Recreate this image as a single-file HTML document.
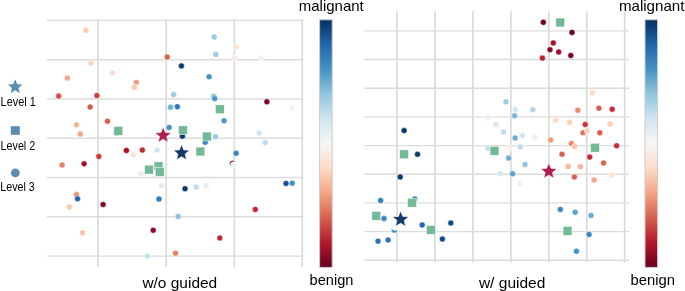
<!DOCTYPE html>
<html><head><meta charset="utf-8"><style>
html,body{margin:0;padding:0;background:#fff;width:685px;height:291px;overflow:hidden;}
svg{display:block;will-change:transform;}
text{font-family:"Liberation Sans",sans-serif;}
</style></head><body>
<svg width="685" height="291" viewBox="0 0 685 291"><defs><linearGradient id="rdbu" x1="0" y1="0" x2="0" y2="1"><stop offset="0.00" stop-color="#053061"/><stop offset="0.10" stop-color="#2166ac"/><stop offset="0.20" stop-color="#4393c3"/><stop offset="0.30" stop-color="#92c5de"/><stop offset="0.40" stop-color="#d1e5f0"/><stop offset="0.50" stop-color="#f7f7f7"/><stop offset="0.60" stop-color="#fddbc7"/><stop offset="0.70" stop-color="#f4a582"/><stop offset="0.80" stop-color="#d6604d"/><stop offset="0.90" stop-color="#b2182b"/><stop offset="1.00" stop-color="#67001f"/></linearGradient></defs>
<line x1="47" y1="20.40" x2="303.5" y2="20.40" stroke="#dcdcdc" stroke-width="1.4"/>
<line x1="47" y1="59.68" x2="303.5" y2="59.68" stroke="#dcdcdc" stroke-width="1.4"/>
<line x1="47" y1="98.96" x2="303.5" y2="98.96" stroke="#dcdcdc" stroke-width="1.4"/>
<line x1="47" y1="138.24" x2="303.5" y2="138.24" stroke="#dcdcdc" stroke-width="1.4"/>
<line x1="47" y1="177.52" x2="303.5" y2="177.52" stroke="#dcdcdc" stroke-width="1.4"/>
<line x1="47" y1="216.80" x2="303.5" y2="216.80" stroke="#dcdcdc" stroke-width="1.4"/>
<line x1="47" y1="256.08" x2="303.5" y2="256.08" stroke="#dcdcdc" stroke-width="1.4"/>
<line x1="98.10" y1="19.2" x2="98.10" y2="267.3" stroke="#dcdcdc" stroke-width="1.8"/>
<line x1="166.20" y1="19.2" x2="166.20" y2="267.3" stroke="#dcdcdc" stroke-width="1.8"/>
<line x1="234.30" y1="19.2" x2="234.30" y2="267.3" stroke="#dcdcdc" stroke-width="1.8"/>
<line x1="302.20" y1="19.2" x2="302.20" y2="267.3" stroke="#dcdcdc" stroke-width="1.8"/>
<line x1="364.4" y1="30.90" x2="628.8" y2="30.90" stroke="#dcdcdc" stroke-width="1.4"/>
<line x1="364.4" y1="59.57" x2="628.8" y2="59.57" stroke="#dcdcdc" stroke-width="1.4"/>
<line x1="364.4" y1="88.24" x2="628.8" y2="88.24" stroke="#dcdcdc" stroke-width="1.4"/>
<line x1="364.4" y1="116.91" x2="628.8" y2="116.91" stroke="#dcdcdc" stroke-width="1.4"/>
<line x1="364.4" y1="145.58" x2="628.8" y2="145.58" stroke="#dcdcdc" stroke-width="1.4"/>
<line x1="364.4" y1="174.25" x2="628.8" y2="174.25" stroke="#dcdcdc" stroke-width="1.4"/>
<line x1="364.4" y1="202.92" x2="628.8" y2="202.92" stroke="#dcdcdc" stroke-width="1.4"/>
<line x1="364.4" y1="231.59" x2="628.8" y2="231.59" stroke="#dcdcdc" stroke-width="1.4"/>
<line x1="364.4" y1="260.26" x2="628.8" y2="260.26" stroke="#dcdcdc" stroke-width="1.4"/>
<line x1="397.00" y1="11.3" x2="397.00" y2="262.6" stroke="#dcdcdc" stroke-width="1.8"/>
<line x1="434.95" y1="11.3" x2="434.95" y2="262.6" stroke="#dcdcdc" stroke-width="1.8"/>
<line x1="472.90" y1="11.3" x2="472.90" y2="262.6" stroke="#dcdcdc" stroke-width="1.8"/>
<line x1="510.85" y1="11.3" x2="510.85" y2="262.6" stroke="#dcdcdc" stroke-width="1.8"/>
<line x1="548.80" y1="11.3" x2="548.80" y2="262.6" stroke="#dcdcdc" stroke-width="1.8"/>
<line x1="586.75" y1="11.3" x2="586.75" y2="262.6" stroke="#dcdcdc" stroke-width="1.8"/>
<line x1="624.70" y1="11.3" x2="624.70" y2="262.6" stroke="#dcdcdc" stroke-width="1.8"/>
<circle cx="85.8" cy="30.3" r="3.0" fill="#fbcbb2" stroke="#fff" stroke-width="0.5"/>
<circle cx="214.2" cy="37.1" r="3.0" fill="#9ecae1" stroke="#fff" stroke-width="0.5"/>
<circle cx="236.3" cy="47.0" r="3.0" fill="#fbe3d6" stroke="#fff" stroke-width="0.5"/>
<circle cx="215.9" cy="54.6" r="3.0" fill="#9ecae1" stroke="#fff" stroke-width="0.5"/>
<circle cx="167.2" cy="57.0" r="3.0" fill="#d6604d" stroke="#fff" stroke-width="0.5"/>
<circle cx="234.4" cy="57.9" r="3.0" fill="#f9ece4" stroke="#fff" stroke-width="0.5"/>
<circle cx="260.9" cy="58.0" r="3.0" fill="#f7efea" stroke="#fff" stroke-width="0.5"/>
<circle cx="90.9" cy="63.1" r="3.0" fill="#fbd3bd" stroke="#fff" stroke-width="0.5"/>
<circle cx="112.4" cy="73.0" r="3.0" fill="#fbdcca" stroke="#fff" stroke-width="0.5"/>
<circle cx="67.4" cy="78.1" r="3.0" fill="#f4a582" stroke="#fff" stroke-width="0.5"/>
<circle cx="58.6" cy="96.1" r="3.0" fill="#d0504a" stroke="#fff" stroke-width="0.5"/>
<circle cx="96.9" cy="95.5" r="3.0" fill="#cc3d3f" stroke="#fff" stroke-width="0.5"/>
<circle cx="90.1" cy="107.0" r="3.0" fill="#d35a4a" stroke="#fff" stroke-width="0.5"/>
<circle cx="107.5" cy="121.2" r="3.0" fill="#d6604d" stroke="#fff" stroke-width="0.5"/>
<circle cx="181.4" cy="65.9" r="3.0" fill="#0b3a6e" stroke="#fff" stroke-width="0.5"/>
<circle cx="209.1" cy="76.8" r="3.0" fill="#4393c3" stroke="#fff" stroke-width="0.5"/>
<circle cx="136.3" cy="82.4" r="3.0" fill="#f09c7b" stroke="#fff" stroke-width="0.5"/>
<circle cx="134.4" cy="87.3" r="3.0" fill="#fbc6ab" stroke="#fff" stroke-width="0.5"/>
<circle cx="173.6" cy="94.5" r="3.0" fill="#9ecae1" stroke="#fff" stroke-width="0.5"/>
<circle cx="213.7" cy="96.2" r="3.0" fill="#8cc0dd" stroke="#fff" stroke-width="0.5"/>
<circle cx="214.7" cy="98.6" r="3.0" fill="#4393c3" stroke="#fff" stroke-width="0.5"/>
<circle cx="170.5" cy="107.3" r="3.0" fill="#6aaed6" stroke="#fff" stroke-width="0.5"/>
<circle cx="177.3" cy="106.7" r="3.0" fill="#2f78b8" stroke="#fff" stroke-width="0.5"/>
<circle cx="266.9" cy="101.8" r="3.0" fill="#7a0822" stroke="#fff" stroke-width="0.5"/>
<circle cx="291.8" cy="108.1" r="3.0" fill="#f3f3f3" stroke="#fff" stroke-width="0.5"/>
<circle cx="76.5" cy="124.8" r="3.0" fill="#f7b495" stroke="#fff" stroke-width="0.5"/>
<circle cx="80.2" cy="134.1" r="3.0" fill="#f4a582" stroke="#fff" stroke-width="0.5"/>
<circle cx="98.8" cy="156.4" r="3.0" fill="#cc3a3d" stroke="#fff" stroke-width="0.5"/>
<circle cx="84.1" cy="163.8" r="3.0" fill="#a50f2b" stroke="#fff" stroke-width="0.5"/>
<circle cx="62.1" cy="165.0" r="3.0" fill="#e48065" stroke="#fff" stroke-width="0.5"/>
<circle cx="116.3" cy="133.1" r="3.0" fill="#3a80c0" stroke="#fff" stroke-width="0.5"/>
<circle cx="169.1" cy="127.4" r="3.0" fill="#4393c3" stroke="#fff" stroke-width="0.5"/>
<circle cx="182.4" cy="136.2" r="3.0" fill="#0d3a70" stroke="#fff" stroke-width="0.5"/>
<circle cx="215.5" cy="136.7" r="3.0" fill="#9ecae1" stroke="#fff" stroke-width="0.5"/>
<circle cx="205.2" cy="142.3" r="3.0" fill="#3a85c0" stroke="#fff" stroke-width="0.5"/>
<circle cx="126.4" cy="150.5" r="3.0" fill="#a50f26" stroke="#fff" stroke-width="0.5"/>
<circle cx="142.3" cy="150.1" r="3.0" fill="#c0263a" stroke="#fff" stroke-width="0.5"/>
<circle cx="133.4" cy="154.8" r="3.0" fill="#fbe3d6" stroke="#fff" stroke-width="0.5"/>
<circle cx="157.1" cy="150.1" r="3.0" fill="#d1e5f0" stroke="#fff" stroke-width="0.5"/>
<circle cx="224.1" cy="120.8" r="3.0" fill="#4a98c9" stroke="#fff" stroke-width="0.5"/>
<circle cx="259.2" cy="133.0" r="3.0" fill="#d1e5f0" stroke="#fff" stroke-width="0.5"/>
<circle cx="265.2" cy="142.5" r="3.0" fill="#c0dcec" stroke="#fff" stroke-width="0.5"/>
<circle cx="236.1" cy="153.3" r="3.0" fill="#3a87c0" stroke="#fff" stroke-width="0.5"/>
<circle cx="76.5" cy="194.6" r="3.0" fill="#ee9273" stroke="#fff" stroke-width="0.5"/>
<circle cx="77.5" cy="198.8" r="3.0" fill="#2166ac" stroke="#fff" stroke-width="0.5"/>
<circle cx="69.3" cy="207.0" r="3.0" fill="#fbc9ae" stroke="#fff" stroke-width="0.5"/>
<circle cx="103.1" cy="204.5" r="3.0" fill="#8a0b25" stroke="#fff" stroke-width="0.5"/>
<circle cx="140.8" cy="173.7" r="3.0" fill="#e4eef5" stroke="#fff" stroke-width="0.5"/>
<circle cx="161.4" cy="185.7" r="3.0" fill="#e0ecf4" stroke="#fff" stroke-width="0.5"/>
<circle cx="159.0" cy="199.1" r="3.0" fill="#2f7bbd" stroke="#fff" stroke-width="0.5"/>
<circle cx="185.0" cy="188.8" r="3.0" fill="#0b3a6e" stroke="#fff" stroke-width="0.5"/>
<circle cx="196.3" cy="187.1" r="3.0" fill="#c4ddee" stroke="#fff" stroke-width="0.5"/>
<circle cx="206.0" cy="185.5" r="3.0" fill="#e6eef3" stroke="#fff" stroke-width="0.5"/>
<circle cx="232.6" cy="163.4" r="3.0" fill="#7a0822" stroke="#fff" stroke-width="0.5"/>
<circle cx="233.6" cy="164.8" r="3.0" fill="#e3edf4" stroke="#fff" stroke-width="0.5"/>
<circle cx="286.0" cy="183.4" r="3.0" fill="#1d4f8c" stroke="#fff" stroke-width="0.5"/>
<circle cx="292.2" cy="183.2" r="3.0" fill="#4393c3" stroke="#fff" stroke-width="0.5"/>
<circle cx="255.3" cy="209.4" r="3.0" fill="#c0283a" stroke="#fff" stroke-width="0.5"/>
<circle cx="82.5" cy="232.8" r="3.0" fill="#fbc4a8" stroke="#fff" stroke-width="0.5"/>
<circle cx="178.1" cy="216.5" r="3.0" fill="#8cc2e0" stroke="#fff" stroke-width="0.5"/>
<circle cx="153.2" cy="230.3" r="3.0" fill="#8a0b25" stroke="#fff" stroke-width="0.5"/>
<circle cx="219.8" cy="238.0" r="3.0" fill="#c0263a" stroke="#fff" stroke-width="0.5"/>
<circle cx="147.2" cy="256.1" r="3.0" fill="#c6e0ef" stroke="#fff" stroke-width="0.5"/>
<circle cx="175.5" cy="253.2" r="3.0" fill="#e58368" stroke="#fff" stroke-width="0.5"/>
<rect x="113.90" y="126.35" width="8.9" height="8.9" fill="#74b995" stroke="#fff" stroke-width="0.5"/>
<rect x="178.55" y="125.85" width="8.9" height="8.9" fill="#74b995" stroke="#fff" stroke-width="0.5"/>
<rect x="202.35" y="132.05" width="8.9" height="8.9" fill="#74b995" stroke="#fff" stroke-width="0.5"/>
<rect x="195.95" y="147.05" width="8.9" height="8.9" fill="#74b995" stroke="#fff" stroke-width="0.5"/>
<rect x="215.35" y="104.85" width="8.9" height="8.9" fill="#74b995" stroke="#fff" stroke-width="0.5"/>
<rect x="144.55" y="165.15" width="8.9" height="8.9" fill="#74b995" stroke="#fff" stroke-width="0.5"/>
<rect x="154.05" y="161.85" width="8.9" height="8.9" fill="#74b995" stroke="#fff" stroke-width="0.5"/>
<rect x="155.25" y="167.25" width="8.9" height="8.9" fill="#74b995" stroke="#fff" stroke-width="0.5"/>
<path d="M163.15,126.95 L165.35,132.43 L171.25,132.83 L166.71,136.62 L168.16,142.35 L163.15,139.21 L158.14,142.35 L159.59,136.62 L155.05,132.83 L160.95,132.43 Z" fill="#b11d4c" stroke="#fff" stroke-width="0.6"/>
<path d="M181.55,144.40 L183.75,149.88 L189.65,150.28 L185.11,154.07 L186.56,159.80 L181.55,156.66 L176.54,159.80 L177.99,154.07 L173.45,150.28 L179.35,149.88 Z" fill="#12386a" stroke="#fff" stroke-width="0.6"/>
<circle cx="543.3" cy="22.3" r="3.0" fill="#67001f" stroke="#fff" stroke-width="0.5"/>
<circle cx="572.0" cy="32.4" r="3.0" fill="#6b0120" stroke="#fff" stroke-width="0.5"/>
<circle cx="553.3" cy="42.9" r="3.0" fill="#a8102a" stroke="#fff" stroke-width="0.5"/>
<circle cx="550.0" cy="49.7" r="3.0" fill="#8a0b25" stroke="#fff" stroke-width="0.5"/>
<circle cx="558.7" cy="52.0" r="3.0" fill="#9e0e2a" stroke="#fff" stroke-width="0.5"/>
<circle cx="570.8" cy="55.5" r="3.0" fill="#740520" stroke="#fff" stroke-width="0.5"/>
<circle cx="542.4" cy="58.1" r="3.0" fill="#b81c2e" stroke="#fff" stroke-width="0.5"/>
<circle cx="506.0" cy="101.8" r="3.0" fill="#9ecae1" stroke="#fff" stroke-width="0.5"/>
<circle cx="515.3" cy="109.6" r="3.0" fill="#d1e5f0" stroke="#fff" stroke-width="0.5"/>
<circle cx="532.8" cy="109.8" r="3.0" fill="#b4d4e8" stroke="#fff" stroke-width="0.5"/>
<circle cx="514.6" cy="115.8" r="3.0" fill="#7ab6d9" stroke="#fff" stroke-width="0.5"/>
<circle cx="488.0" cy="117.2" r="3.0" fill="#e9f0f5" stroke="#fff" stroke-width="0.5"/>
<circle cx="495.9" cy="124.6" r="3.0" fill="#dbe9f2" stroke="#fff" stroke-width="0.5"/>
<circle cx="503.5" cy="132.1" r="3.0" fill="#c2dbeb" stroke="#fff" stroke-width="0.5"/>
<circle cx="522.3" cy="135.6" r="3.0" fill="#d1e5f0" stroke="#fff" stroke-width="0.5"/>
<circle cx="515.1" cy="138.1" r="3.0" fill="#6aaed6" stroke="#fff" stroke-width="0.5"/>
<circle cx="534.7" cy="137.5" r="3.0" fill="#f7ebe5" stroke="#fff" stroke-width="0.5"/>
<circle cx="555.7" cy="120.1" r="3.0" fill="#fcdac7" stroke="#fff" stroke-width="0.5"/>
<circle cx="550.7" cy="140.0" r="3.0" fill="#f09c7b" stroke="#fff" stroke-width="0.5"/>
<circle cx="488.1" cy="148.3" r="3.0" fill="#c6dbef" stroke="#fff" stroke-width="0.5"/>
<circle cx="509.5" cy="147.8" r="3.0" fill="#f7ede8" stroke="#fff" stroke-width="0.5"/>
<circle cx="520.3" cy="146.9" r="3.0" fill="#c0dcec" stroke="#fff" stroke-width="0.5"/>
<circle cx="508.7" cy="158.1" r="3.0" fill="#6aaed6" stroke="#fff" stroke-width="0.5"/>
<circle cx="525.0" cy="164.5" r="3.0" fill="#92c5de" stroke="#fff" stroke-width="0.5"/>
<circle cx="500.4" cy="173.8" r="3.0" fill="#d1e5f0" stroke="#fff" stroke-width="0.5"/>
<circle cx="512.6" cy="173.8" r="3.0" fill="#5aa2cf" stroke="#fff" stroke-width="0.5"/>
<circle cx="519.8" cy="184.1" r="3.0" fill="#f0f0f0" stroke="#fff" stroke-width="0.5"/>
<circle cx="592.4" cy="92.7" r="3.0" fill="#fddbc7" stroke="#fff" stroke-width="0.5"/>
<circle cx="577.8" cy="110.3" r="3.0" fill="#ea8b6c" stroke="#fff" stroke-width="0.5"/>
<circle cx="598.9" cy="108.2" r="3.0" fill="#d6604d" stroke="#fff" stroke-width="0.5"/>
<circle cx="612.2" cy="109.2" r="3.0" fill="#c32a3a" stroke="#fff" stroke-width="0.5"/>
<circle cx="569.6" cy="122.5" r="3.0" fill="#fbd0b9" stroke="#fff" stroke-width="0.5"/>
<circle cx="585.2" cy="124.5" r="3.0" fill="#c8353a" stroke="#fff" stroke-width="0.5"/>
<circle cx="610.1" cy="124.0" r="3.0" fill="#fbcfb5" stroke="#fff" stroke-width="0.5"/>
<circle cx="583.0" cy="132.7" r="3.0" fill="#e0735a" stroke="#fff" stroke-width="0.5"/>
<circle cx="587.3" cy="130.7" r="3.0" fill="#fcd5bf" stroke="#fff" stroke-width="0.5"/>
<circle cx="599.8" cy="132.8" r="3.0" fill="#d6604d" stroke="#fff" stroke-width="0.5"/>
<circle cx="571.4" cy="143.6" r="3.0" fill="#e8896b" stroke="#fff" stroke-width="0.5"/>
<circle cx="574.7" cy="146.5" r="3.0" fill="#f9c4a8" stroke="#fff" stroke-width="0.5"/>
<circle cx="616.6" cy="145.8" r="3.0" fill="#c4293a" stroke="#fff" stroke-width="0.5"/>
<circle cx="562.0" cy="154.2" r="3.0" fill="#d6604d" stroke="#fff" stroke-width="0.5"/>
<circle cx="589.7" cy="157.1" r="3.0" fill="#c0263a" stroke="#fff" stroke-width="0.5"/>
<circle cx="603.6" cy="163.1" r="3.0" fill="#d6604d" stroke="#fff" stroke-width="0.5"/>
<circle cx="568.2" cy="166.6" r="3.0" fill="#f7b799" stroke="#fff" stroke-width="0.5"/>
<circle cx="580.4" cy="166.8" r="3.0" fill="#f7b799" stroke="#fff" stroke-width="0.5"/>
<circle cx="574.4" cy="177.0" r="3.0" fill="#d6604d" stroke="#fff" stroke-width="0.5"/>
<circle cx="594.1" cy="180.0" r="3.0" fill="#f4a582" stroke="#fff" stroke-width="0.5"/>
<circle cx="611.3" cy="175.3" r="3.0" fill="#fbe5d8" stroke="#fff" stroke-width="0.5"/>
<circle cx="560.3" cy="209.4" r="3.0" fill="#3a88c2" stroke="#fff" stroke-width="0.5"/>
<circle cx="575.2" cy="212.2" r="3.0" fill="#5ba3d0" stroke="#fff" stroke-width="0.5"/>
<circle cx="591.0" cy="215.5" r="3.0" fill="#6aaed6" stroke="#fff" stroke-width="0.5"/>
<circle cx="589.1" cy="234.4" r="3.0" fill="#3a88c2" stroke="#fff" stroke-width="0.5"/>
<circle cx="576.4" cy="251.3" r="3.0" fill="#4292c6" stroke="#fff" stroke-width="0.5"/>
<circle cx="404.1" cy="130.6" r="3.0" fill="#0b3a6e" stroke="#fff" stroke-width="0.5"/>
<circle cx="417.5" cy="154.3" r="3.0" fill="#0b3a6e" stroke="#fff" stroke-width="0.5"/>
<circle cx="400.2" cy="176.9" r="3.0" fill="#0b3a6e" stroke="#fff" stroke-width="0.5"/>
<circle cx="380.6" cy="200.4" r="3.0" fill="#3182bd" stroke="#fff" stroke-width="0.5"/>
<circle cx="414.8" cy="199.0" r="3.0" fill="#3182bd" stroke="#fff" stroke-width="0.5"/>
<circle cx="384.0" cy="218.5" r="3.0" fill="#3a88c2" stroke="#fff" stroke-width="0.5"/>
<circle cx="394.4" cy="230.0" r="3.0" fill="#3a88c2" stroke="#fff" stroke-width="0.5"/>
<circle cx="395.0" cy="227.4" r="3.0" fill="#fcfcfc" stroke="#fff" stroke-width="0.5"/>
<circle cx="422.2" cy="224.9" r="3.0" fill="#2166ac" stroke="#fff" stroke-width="0.5"/>
<circle cx="450.8" cy="223.0" r="3.0" fill="#104889" stroke="#fff" stroke-width="0.5"/>
<circle cx="442.4" cy="239.1" r="3.0" fill="#104889" stroke="#fff" stroke-width="0.5"/>
<circle cx="378.0" cy="241.2" r="3.0" fill="#2c73b5" stroke="#fff" stroke-width="0.5"/>
<circle cx="388.1" cy="240.0" r="3.0" fill="#2c73b5" stroke="#fff" stroke-width="0.5"/>
<rect x="555.85" y="18.05" width="8.9" height="8.9" fill="#74b995" stroke="#fff" stroke-width="0.5"/>
<rect x="490.05" y="146.35" width="8.9" height="8.9" fill="#74b995" stroke="#fff" stroke-width="0.5"/>
<rect x="590.55" y="143.25" width="8.9" height="8.9" fill="#74b995" stroke="#fff" stroke-width="0.5"/>
<rect x="563.05" y="226.45" width="8.9" height="8.9" fill="#74b995" stroke="#fff" stroke-width="0.5"/>
<rect x="399.65" y="149.85" width="8.9" height="8.9" fill="#74b995" stroke="#fff" stroke-width="0.5"/>
<rect x="407.55" y="198.25" width="8.9" height="8.9" fill="#74b995" stroke="#fff" stroke-width="0.5"/>
<rect x="371.85" y="211.35" width="8.9" height="8.9" fill="#74b995" stroke="#fff" stroke-width="0.5"/>
<rect x="426.55" y="225.35" width="8.9" height="8.9" fill="#74b995" stroke="#fff" stroke-width="0.5"/>
<path d="M548.85,162.85 L551.05,168.33 L556.95,168.73 L552.41,172.52 L553.86,178.25 L548.85,175.11 L543.84,178.25 L545.29,172.52 L540.75,168.73 L546.65,168.33 Z" fill="#b11d4c" stroke="#fff" stroke-width="0.6"/>
<path d="M400.60,210.90 L402.80,216.38 L408.70,216.78 L404.16,220.57 L405.61,226.30 L400.60,223.16 L395.59,226.30 L397.04,220.57 L392.50,216.78 L398.40,216.38 Z" fill="#12386a" stroke="#fff" stroke-width="0.6"/>
<path d="M15.15,79.21 L17.15,84.19 L22.50,84.55 L18.38,87.99 L19.69,93.19 L15.15,90.34 L10.61,93.19 L11.92,87.99 L7.80,84.55 L13.15,84.19 Z" fill="#5b8db3"/>
<rect x="10.8" y="126.2" width="9" height="8.6" fill="#5b8db3"/>
<circle cx="15.3" cy="172.8" r="4.4" fill="#5b8db3"/>
<rect x="319.6" y="19.8" width="12.6" height="247.6" fill="url(#rdbu)" stroke="#cccccc" stroke-width="1"/>
<rect x="645.0" y="19.8" width="12.6" height="247.6" fill="url(#rdbu)" stroke="#cccccc" stroke-width="1"/>
<text x="298.8" y="11.2" font-size="14.2" font-family="Liberation Sans, sans-serif" fill="#000" text-anchor="start" textLength="65.0" lengthAdjust="spacingAndGlyphs">malignant</text>
<text x="618.9" y="11.0" font-size="14.2" font-family="Liberation Sans, sans-serif" fill="#000" text-anchor="start" textLength="65.6" lengthAdjust="spacingAndGlyphs">malignant</text>
<text x="309.6" y="284.7" font-size="14.2" font-family="Liberation Sans, sans-serif" fill="#000" text-anchor="start" textLength="43.8" lengthAdjust="spacingAndGlyphs">benign</text>
<text x="630.6" y="284.7" font-size="14.2" font-family="Liberation Sans, sans-serif" fill="#000" text-anchor="start" textLength="44.4" lengthAdjust="spacingAndGlyphs">benign</text>
<text x="142.4" y="287.6" font-size="14.0" font-family="Liberation Sans, sans-serif" fill="#000" text-anchor="start" textLength="74.8" lengthAdjust="spacingAndGlyphs">w/o guided</text>
<text x="478.9" y="287.6" font-size="14.0" font-family="Liberation Sans, sans-serif" fill="#000" text-anchor="start" textLength="66.5" lengthAdjust="spacingAndGlyphs">w/ guided</text>
<text x="0.6" y="105.7" font-size="12.0" font-family="Liberation Sans, sans-serif" fill="#000" text-anchor="start" textLength="35.1" lengthAdjust="spacingAndGlyphs">Level 1</text>
<text x="0.6" y="149.6" font-size="12.0" font-family="Liberation Sans, sans-serif" fill="#000" text-anchor="start" textLength="34.6" lengthAdjust="spacingAndGlyphs">Level 2</text>
<text x="0.3" y="190.7" font-size="12.0" font-family="Liberation Sans, sans-serif" fill="#000" text-anchor="start" textLength="34.4" lengthAdjust="spacingAndGlyphs">Level 3</text>
</svg>
</body></html>
